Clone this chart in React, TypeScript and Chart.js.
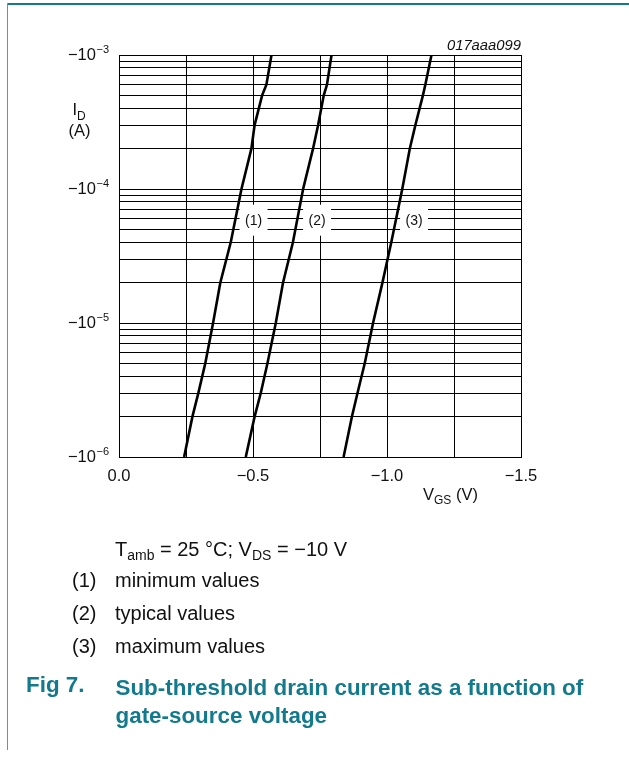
import { useEffect, useRef } from "react";
import { Chart, registerables } from "chart.js";

Chart.register(...registerables);

// Drain current levels (A) at which the gate-source voltage of each curve is read
const drainCurrentA = [-1e-6, -2e-6, -3e-6, -5e-6, -1e-5, -2e-5, -4e-5, -1e-4, -2e-4, -3e-4, -5e-4, -6e-4, -1e-3];
// Gate-source voltage (V) for (1) minimum, (2) typical and (3) maximum devices
const vgsMinimum = [-0.243, -0.274, -0.296, -0.322, -0.351, -0.378, -0.417, -0.457, -0.494, -0.506, -0.534, -0.55, -0.569];
const vgsTypical = [-0.473, -0.506, -0.529, -0.554, -0.585, -0.612, -0.649, -0.687, -0.724, -0.743, -0.764, -0.776, -0.793];
const vgsMaximum = [-0.838, -0.869, -0.89, -0.917, -0.948, -0.983, -1.016, -1.057, -1.085, -1.106, -1.134, -1.143, -1.166];

// Curve number tags and where they sit (V, A)
const curveTags = ["(1)", "(2)", "(3)"];
const tagVgs = [-0.502, -0.739, -1.101];
const tagCurrentA = -5.9e-5;

// Axis ticks
const xLabelValues = [0, -0.5, -1.0, -1.5];
const xLabelTexts = ["0.0", "\u22120.5", "\u22121.0", "\u22121.5"];
const xGridStep = 0.25;
const yDecadeExponents = [-3, -4, -5, -6];
const yMantissas = [1, 2, 3, 4, 5, 6, 7, 8, 9];

const FONT = '"Liberation Sans", Arial, Helvetica, sans-serif';
const TEAL = "#127a8c";

const yGridValues: number[] = [];
for (let e = -6; e < -3; e++) {
  for (const m of yMantissas) yGridValues.push(m * Math.pow(10, e));
}
yGridValues.push(1e-3);

const annotate = {
  id: "annotate",
  beforeDatasetsDraw(chart: any) {
    const { ctx, scales } = chart;
    const x = scales.x;
    const y = scales.y;
    ctx.save();
    ctx.font = `14px ${FONT}`;
    ctx.textAlign = "center";
    ctx.textBaseline = "middle";
    curveTags.forEach((tag, i) => {
      const px = x.getPixelForValue(tagVgs[i]);
      const py = y.getPixelForValue(Math.abs(tagCurrentA));
      ctx.fillStyle = "#fff";
      ctx.fillRect(px - 14, py - 15, 28, 31);
      ctx.fillStyle = "#111";
      ctx.fillText(tag, px, py + 1);
    });
    ctx.restore();
  },
  afterDraw(chart: any) {
    const { ctx, scales, chartArea } = chart;
    const x = scales.x;
    const y = scales.y;
    ctx.save();
    ctx.fillStyle = "#111";

    // y decade labels, e.g. −10⁻³
    yDecadeExponents.forEach((e) => {
      const py = y.getPixelForValue(Math.pow(10, e)) + 0.5;
      const right = chartArea.left - 10;
      ctx.textBaseline = "middle";
      ctx.textAlign = "right";
      ctx.font = `11px ${FONT}`;
      const expText = "\u2212" + String(Math.abs(e));
      const expW = ctx.measureText(expText).width;
      ctx.fillText(expText, right, py - 5.5);
      ctx.font = `16.5px ${FONT}`;
      ctx.fillText("\u221210", right - expW - 0.5, py);
    });

    // x labels
    ctx.font = `16.5px ${FONT}`;
    ctx.textAlign = "center";
    ctx.textBaseline = "middle";
    xLabelValues.forEach((v, i) => {
      ctx.fillText(xLabelTexts[i], x.getPixelForValue(v), chartArea.bottom + 19);
    });

    // x title V_GS (V)
    ctx.textAlign = "left";
    ctx.textBaseline = "alphabetic";
    let tx = 423;
    ctx.font = `16.5px ${FONT}`;
    ctx.fillText("V", tx, 500);
    tx += ctx.measureText("V").width;
    ctx.font = `12px ${FONT}`;
    ctx.fillText("GS", tx, 504);
    tx += ctx.measureText("GS").width;
    ctx.font = `16.5px ${FONT}`;
    ctx.fillText(" (V)", tx, 500);

    // y title I_D (A)
    ctx.fillText("I", 72.5, 115);
    const iw = ctx.measureText("I").width;
    ctx.font = `12px ${FONT}`;
    ctx.fillText("D", 72.5 + iw, 119.5);
    ctx.font = `16.5px ${FONT}`;
    ctx.textAlign = "center";
    ctx.fillText("(A)", 79.5, 136);

    // drawing reference code
    ctx.font = `italic 14.8px ${FONT}`;
    ctx.textAlign = "right";
    ctx.fillText("017aaa099", chartArea.right, 50);
    ctx.restore();
  },
};

const subStyle: React.CSSProperties = { fontSize: 14, position: "relative", top: 4 };

function Line({ top, left, children, style }: any) {
  return (
    <div
      style={{
        position: "absolute",
        top,
        left,
        font: `20px ${FONT}`,
        lineHeight: "20px",
        whiteSpace: "nowrap",
        color: "#111",
        ...style,
      }}
    >
      {children}
    </div>
  );
}

export default function App() {
  const canvasRef = useRef<HTMLCanvasElement>(null);

  useEffect(() => {
    const series = [vgsMinimum, vgsTypical, vgsMaximum];
    const chart = new Chart(canvasRef.current as HTMLCanvasElement, {
      type: "scatter",
      data: {
        datasets: series.map((vals, k) => ({
          label: curveTags[k],
          data: vals.map((v, i) => ({ x: v, y: Math.abs(drainCurrentA[i]) })),
          showLine: true,
          borderColor: "#000",
          borderWidth: 2.6,
          pointRadius: 0,
          fill: false,
          tension: 0,
        })),
      },
      options: {
        animation: false,
        responsive: false,
        devicePixelRatio: 1,
        layout: { padding: { left: 119, top: 55, right: 108, bottom: 300 } },
        plugins: { legend: { display: false }, tooltip: { enabled: false } },
        scales: {
          x: {
            type: "linear",
            min: -1.5,
            max: 0,
            reverse: true,
            ticks: { display: false, stepSize: xGridStep },
            grid: { color: "#000", lineWidth: 1, drawTicks: false },
            border: { display: true, color: "#000", width: 1 },
          },
          y: {
            type: "logarithmic",
            min: 1e-6,
            max: 1e-3,
            afterBuildTicks: (scale: any) => {
              scale.ticks = yGridValues.map((value) => ({ value }));
            },
            ticks: { display: false },
            grid: { color: "#000", lineWidth: 1, drawTicks: false },
            border: { display: true, color: "#000", width: 1 },
          },
        },
      } as any,
      plugins: [annotate],
    });
    return () => chart.destroy();
  }, []);

  return (
    <div
      style={{
        position: "fixed",
        left: 0,
        top: 0,
        width: 629,
        height: 757,
        background: "#fff",
        overflow: "hidden",
      }}
    >
      <div style={{ position: "absolute", left: 8, top: 3, width: 621, height: 2, background: TEAL }} />
      <div style={{ position: "absolute", left: 7, top: 3, width: 1, height: 747, background: "#7a8f95" }} />
      <canvas ref={canvasRef} width={629} height={757} style={{ position: "absolute", left: 0, top: 0 }} />

      <Line top={539} left={115}>
        T<span style={subStyle}>amb</span> = 25 °C; V<span style={subStyle}>DS</span> = {"\u2212"}10 V
      </Line>
      <Line top={570} left={72}>(1)</Line>
      <Line top={570} left={115}>minimum values</Line>
      <Line top={603} left={72}>(2)</Line>
      <Line top={603} left={115}>typical values</Line>
      <Line top={636} left={72}>(3)</Line>
      <Line top={636} left={115}>maximum values</Line>

      <Line top={674} left={26} style={{ font: `bold 22.4px ${FONT}`, lineHeight: "22.4px", color: TEAL }}>
        Fig 7.
      </Line>
      <Line
        top={674}
        left={115.5}
        style={{ font: `bold 22.4px ${FONT}`, lineHeight: "27.5px", color: TEAL, whiteSpace: "normal", width: 500 }}
      >
        Sub-threshold drain current as a function of
        <br />
        gate-source voltage
      </Line>
    </div>
  );
}
